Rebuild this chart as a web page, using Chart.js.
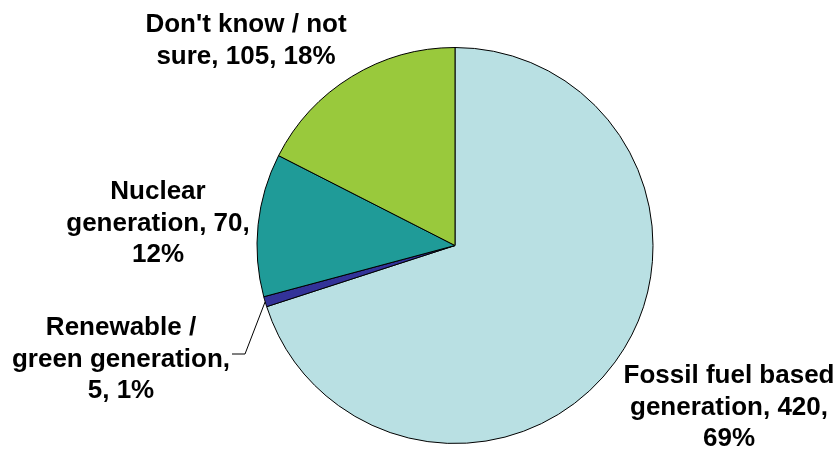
<!DOCTYPE html>
<html>
<head>
<meta charset="utf-8">
<script src="https://cdn.jsdelivr.net/npm/chart.js@4/dist/chart.umd.min.js"></script>
<style>
  html, body { margin: 0; padding: 0; background: #fff; }
  #wrap { position: relative; width: 835px; height: 451px; }
</style>
</head>
<body>
<div id="wrap"><canvas id="chart"></canvas></div>
<script>
const categories = ['Fossil fuel based generation', 'Renewable / green generation', 'Nuclear generation', "Don't know / not sure"];
const values = [420, 5, 70, 105];
const percents = [69, 1, 12, 18];
const colors = ['#b9e0e3', '#333399', '#1f9b98', '#99c93c'];

// where each label block sits (centre x, first baseline y, wrap width)
const labelLayout = [
  { x: 729, y: 383, maxWidth: 220 },
  { x: 121, y: 335, maxWidth: 225, leader: [[245, 354], [232, 354]] },
  { x: 158, y: 199, maxWidth: 205 },
  { x: 246, y: 32, maxWidth: 220 },
];
const LINE_H = 31.7;
const FONT = 'bold 26px "Liberation Sans", Arial, sans-serif';

function wrap(ctx, text, maxWidth) {
  const words = text.split(' ');
  const lines = [];
  let cur = '';
  words.forEach(w => {
    const test = cur ? cur + ' ' + w : w;
    if (cur && ctx.measureText(test).width > maxWidth) {
      lines.push(cur);
      cur = w;
    } else cur = test;
  });
  if (cur) lines.push(cur);
  return lines;
}

const sliceLabels = {
  id: 'sliceLabels',
  afterDraw(chart) {
    const ctx = chart.ctx;
    const arcs = chart.getDatasetMeta(0).data;
    ctx.save();
    ctx.font = FONT;
    ctx.fillStyle = '#000';
    ctx.textAlign = 'center';
    ctx.textBaseline = 'alphabetic';
    categories.forEach((cat, i) => {
      const lay = labelLayout[i];
      const text = `${cat}, ${values[i]}, ${percents[i]}%`;
      wrap(ctx, text, lay.maxWidth).forEach((line, j) => {
        ctx.fillText(line, lay.x, lay.y + j * LINE_H);
      });
      if (lay.leader) {
        const a = arcs[i];
        const mid = (a.startAngle + a.endAngle) / 2;
        ctx.beginPath();
        ctx.strokeStyle = '#000';
        ctx.lineWidth = 1;
        ctx.moveTo(a.x + Math.cos(mid) * a.outerRadius, a.y + Math.sin(mid) * a.outerRadius);
        lay.leader.forEach(p => ctx.lineTo(p[0], p[1]));
        ctx.stroke();
      }
    });
    ctx.restore();
  }
};

new Chart(document.getElementById('chart'), {
  type: 'pie',
  data: {
    labels: categories,
    datasets: [{
      data: values,
      backgroundColor: colors,
      borderColor: '#000',
      borderWidth: 1,
    }]
  },
  options: {
    responsive: true, maintainAspectRatio: false,
    animation: false,
    layout: { padding: { left: 256, right: 181, top: 47, bottom: 7 } },
    plugins: {
      legend: { display: false },
      tooltip: { enabled: false }
    },
    elements: { arc: { borderJoinStyle: 'miter' } }
  },
  plugins: [sliceLabels]
});
</script>
</body>
</html>
